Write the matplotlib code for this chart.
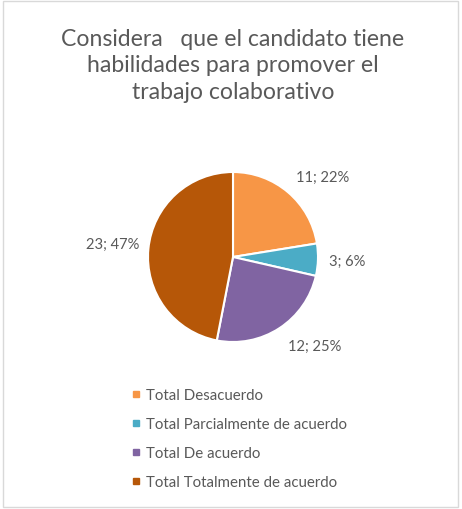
import matplotlib
matplotlib.use("Agg")
import matplotlib.pyplot as plt
from matplotlib.lines import Line2D
from matplotlib.patches import Rectangle

plt.rcParams["font.family"] = ["Lato", "DejaVu Sans"]

TITLE = "Considera   que el candidato tiene\nhabilidades para promover el\ntrabajo colaborativo"
CATEGORIES = ["Total Desacuerdo", "Total Parcialmente de acuerdo",
              "Total De acuerdo", "Total Totalmente de acuerdo"]
VALUES = [11, 3, 12, 23]
PERCENT_LABELS = ["22%", "6%", "25%", "47%"]
COLORS = ["#F79646", "#4BACC6", "#8064A2", "#B65708"]
TEXT = "#595959"

# label anchor points in pie data units (radius = 1), Excel "best fit" style
LABEL_POS = [(1.06, 0.94), (1.13, -0.05), (0.96, -1.05), (-1.42, 0.15)]
LABEL_HA = ["center", "left", "center", "center"]

W, H = 462, 510
fig = plt.figure(figsize=(W / 100, H / 100), dpi=100)
fig.patch.set_facecolor("white")
fig.patches.append(Rectangle((3 / W, 2 / H), 455 / W, 506 / H, transform=fig.transFigure,
                             fill=False, edgecolor="#D9D9D9", linewidth=1))

fig.text(233 / W, 1 - 66 / H, TITLE, ha="center", va="center", fontsize=16.6,
         color=TEXT, linespacing=1.3)

cx, cy, r = 233, 258, 85
ax = fig.add_axes([(cx - r) / W, (H - cy - r) / H, 2 * r / W, 2 * r / H])
ax.pie(VALUES, colors=COLORS, startangle=90, counterclock=False, radius=1,
       wedgeprops=dict(edgecolor="white", linewidth=1.5))
ax.set_xlim(-1, 1)
ax.set_ylim(-1, 1)
ax.set_axis_off()
for v, p, (x, y), ha in zip(VALUES, PERCENT_LABELS, LABEL_POS, LABEL_HA):
    ax.text(x, y, f"{v}; {p}", ha=ha, va="center", fontsize=10.6, color=TEXT, clip_on=False)

handles = [Line2D([], [], marker="s", linestyle="none", markersize=5,
                  markerfacecolor=c, markeredgecolor=c) for c in COLORS]
fig.legend(handles, CATEGORIES, loc="upper left", bbox_to_anchor=(124 / W, 1 - 382 / H),
           frameon=False, fontsize=10.8, labelcolor=TEXT, handlelength=0.6,
           handletextpad=0.4, labelspacing=1.0, borderpad=0)

fig.savefig("out.png", dpi=100)
